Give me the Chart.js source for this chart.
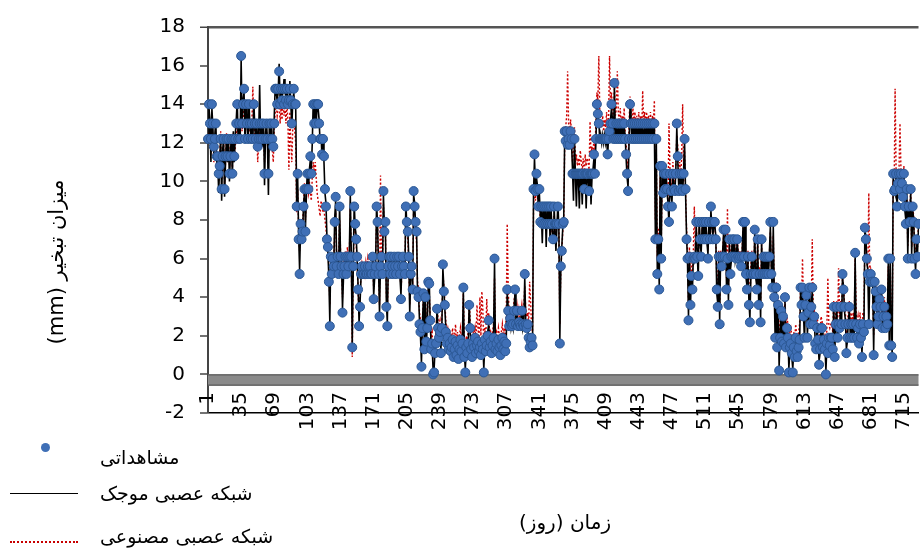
<!DOCTYPE html>
<html><head><meta charset="utf-8">
<script src="https://cdn.jsdelivr.net/npm/chart.js@4.4.1/dist/chart.umd.min.js"></script>
<style>
html,body{margin:0;padding:0;width:920px;height:549px;overflow:hidden;background:#fff;}
#wrap{position:relative;width:924px;height:549px;}
canvas{position:absolute;left:0;top:0;}
.t{position:absolute;font-family:"DejaVu Sans",sans-serif;color:#000;white-space:nowrap;line-height:1;}
</style></head><body>
<div id="wrap">
<canvas id="c" width="924" height="549"></canvas>
<div class="t" dir="rtl" style="left:56px;top:262px;font-size:21px;transform:translate(-50%,-50%) rotate(-90deg);">میزان تبخیر (mm)</div>
<div class="t" dir="rtl" style="left:565px;top:522px;font-size:20px;transform:translate(-50%,-50%);">زمان (روز)</div>
<div style="position:absolute;left:41px;top:443px;width:9px;height:9px;border-radius:50%;background:#3f6fb6;"></div>
<div class="t" dir="rtl" style="left:100px;top:448px;font-size:19px;">مشاهداتی</div>
<div style="position:absolute;left:10px;top:493px;width:68px;height:0;border-top:1.5px solid #000;"></div>
<div class="t" dir="rtl" style="left:100px;top:484px;font-size:19px;">شبکه عصبی موجک</div>
<div style="position:absolute;left:10px;top:541px;width:68px;height:0;border-top:2px dotted #c80000;"></div>
<div class="t" dir="rtl" style="left:100px;top:527px;font-size:19px;">شبکه عصبی مصنوعی</div>
</div>
<script>
// categories: day numbers 1..730
const days = Array.from({length:730},(_,i)=>String(i+1));
const labelStep = 34;
const yTicks = {min:-2, max:18, step:2};

// observed evaporation (mm)
const observed = [
12.2,14.0,13.0,12.2,14.0,13.0,11.8,12.2,13.0,11.3,
11.3,10.4,10.8,12.2,9.6,11.3,12.2,9.6,11.3,12.2,
11.3,12.2,10.4,11.3,12.2,10.4,12.2,11.3,12.2,13.0,
14.0,12.2,13.0,12.2,16.5,13.0,14.0,14.8,12.2,14.0,
13.0,12.2,14.0,13.0,12.2,13.0,12.2,14.0,13.0,12.2,
13.0,11.8,12.2,13.0,12.2,13.0,12.2,13.0,10.4,12.2,
13.0,12.2,10.4,13.0,12.2,13.0,12.2,11.8,13.0,14.8,
14.8,14.0,14.8,15.7,14.0,14.8,14.2,14.8,14.0,14.8,
14.2,14.8,14.0,14.2,14.8,14.2,13.0,14.0,14.8,14.0,
14.0,8.7,10.4,7.0,5.2,7.8,7.0,7.4,8.7,9.6,
7.4,9.6,10.4,9.6,10.4,11.3,10.4,12.2,14.0,13.0,
14.0,13.0,14.0,14.0,13.0,12.2,12.2,11.4,12.2,11.3,
9.6,8.7,7.0,6.6,4.8,2.5,6.1,5.2,6.0,5.6,
7.9,9.2,5.6,6.1,5.2,8.7,6.1,5.6,3.2,5.2,
5.6,6.1,5.2,6.1,5.6,6.1,9.5,6.1,1.4,5.6,
8.7,7.8,7.0,6.1,4.4,2.5,3.5,5.2,5.6,5.2,
5.2,5.6,5.2,5.2,5.6,5.2,5.6,5.2,5.2,6.1,
3.9,5.2,5.6,8.7,7.9,5.2,3.0,5.6,6.1,5.2,
9.5,7.4,7.9,3.5,2.5,5.6,6.1,5.2,6.1,5.6,
5.2,6.1,5.6,5.2,6.1,5.6,6.1,5.2,3.9,5.6,
6.1,5.6,5.2,8.7,7.9,7.4,6.1,3.0,5.2,5.6,
4.4,9.5,8.7,7.9,7.4,4.3,4.0,2.6,2.2,0.4,
2.4,4.2,1.3,4.0,1.7,2.4,4.8,4.7,2.8,1.3,
1.6,0.0,0.1,1.1,1.6,3.4,2.4,1.9,2.2,1.1,
2.4,5.7,4.3,3.6,2.2,1.6,1.9,1.3,1.6,1.2,
1.4,1.8,0.9,1.3,1.7,1.0,1.5,0.8,1.3,1.8,
1.2,1.6,4.5,0.9,0.1,1.4,1.1,1.6,3.6,2.4,
1.3,0.9,1.6,1.4,1.9,1.1,1.5,1.7,1.2,1.4,
1.0,1.6,1.3,0.1,1.8,1.2,1.5,2.0,2.8,1.4,
1.7,1.1,1.5,1.9,6.0,1.3,1.6,1.2,1.8,1.4,
1.0,1.5,1.9,1.3,1.7,1.2,1.6,4.4,3.3,2.5,
2.9,2.6,2.5,2.6,3.3,4.4,2.6,3.3,2.5,2.7,
2.6,2.5,3.3,2.6,2.5,5.2,2.6,2.4,2.6,1.9,
1.4,1.7,1.9,1.5,9.6,11.4,9.5,10.4,9.6,8.7,
9.6,7.9,8.7,7.8,8.7,7.8,8.7,7.8,8.7,7.8,
8.7,7.8,8.7,7.8,7.0,8.7,7.8,7.8,7.8,8.7,
7.8,1.6,5.6,6.4,7.8,7.9,12.6,12.1,12.6,11.9,
12.2,11.9,12.6,12.2,10.4,10.4,12.2,10.4,10.4,10.4,
10.4,10.4,10.4,10.4,10.4,10.4,9.6,10.4,10.4,10.4,
10.4,9.5,10.4,10.4,10.4,10.4,11.4,10.4,12.2,14.0,
13.5,13.0,12.2,12.2,12.2,12.2,12.2,12.2,12.2,12.2,
11.4,12.2,12.6,13.0,14.0,13.0,12.2,15.1,12.2,13.0,
12.2,13.0,12.2,13.0,12.2,13.0,12.2,13.0,12.2,11.4,
10.4,9.5,12.2,14.0,13.0,12.2,13.0,12.2,13.0,12.2,
13.0,12.2,13.0,12.2,13.0,12.2,13.0,12.2,13.0,12.2,
13.0,12.2,13.0,12.2,13.0,12.2,13.0,12.2,13.0,7.0,
12.2,5.2,7.0,4.4,10.8,6.0,10.8,9.4,10.4,9.6,
10.4,9.6,8.7,7.9,10.4,9.5,8.7,10.4,9.6,9.5,
10.4,13.0,11.3,9.5,10.4,9.6,10.4,9.5,10.4,12.2,
9.6,7.0,6.0,2.8,6.1,3.6,5.1,4.4,6.0,6.1,
6.0,7.9,6.1,5.1,7.9,7.0,6.1,7.9,7.0,7.9,
7.0,7.9,7.0,6.0,7.9,7.0,8.7,7.9,7.0,7.9,
7.9,7.0,4.4,3.5,6.1,2.6,6.1,5.6,6.1,7.5,
6.1,7.5,4.4,6.0,3.6,7.0,5.2,6.1,7.0,6.1,
7.0,6.1,6.0,7.0,6.1,6.0,6.1,5.6,6.1,7.9,
6.1,7.9,5.2,4.4,6.1,3.6,2.7,5.2,6.1,5.2,
5.2,7.5,5.2,4.4,7.0,3.6,5.2,2.7,7.0,5.2,
6.1,5.2,6.1,5.2,6.1,5.2,6.1,7.9,5.2,4.5,
7.9,4.0,1.9,4.5,1.4,3.6,0.2,1.9,3.3,1.7,
3.0,1.6,4.0,1.4,2.4,1.9,0.1,1.4,1.6,1.1,
0.1,1.4,0.9,1.9,1.2,0.9,1.4,1.8,4.5,3.6,
4.5,3.0,1.9,3.6,4.1,1.9,3.2,4.5,2.6,3.5,
4.5,2.6,3.0,1.6,1.3,2.4,1.8,0.5,1.3,2.4,
2.4,1.4,1.8,1.3,0.0,1.6,1.1,1.9,1.5,1.9,
1.9,1.3,3.5,0.9,2.6,3.5,1.9,2.6,2.4,3.5,
2.6,5.2,4.4,3.5,2.6,1.1,1.9,2.6,3.5,1.9,
2.6,1.9,2.6,1.9,6.3,2.6,1.9,2.4,1.6,2.6,
1.9,0.9,2.6,2.2,7.6,7.0,6.0,5.2,2.6,4.8,
5.2,4.8,4.8,1.0,4.8,4.3,3.5,2.6,3.0,3.9,
3.5,4.4,2.4,3.0,3.5,2.4,3.0,2.6,6.0,1.5,
6.0,1.5,0.9,10.4,9.5,9.6,10.4,8.7,9.9,10.4,
9.6,10.4,9.9,9.2,10.4,8.7,7.8,9.6,6.0,8.7,
7.9,9.6,6.0,8.7,7.9,6.0,5.2,7.0,6.1,7.8
];

// wavelet neural network (black line)
const wavelet = [
12.0,13.8,13.2,11.0,13.8,12.8,11.4,12.4,13.2,11.0,
11.0,9.4,11.0,12.4,9.0,11.6,12.2,9.2,11.0,12.4,
11.0,12.4,10.0,11.4,12.4,10.2,12.6,11.0,12.4,13.2,
14.2,12.0,13.2,12.0,16.3,13.2,14.2,14.6,12.0,13.8,
13.2,12.0,14.2,12.8,12.4,13.2,12.0,14.2,12.8,12.0,
13.2,11.6,12.4,15.0,12.0,13.2,11.8,13.2,9.8,12.4,
13.2,12.0,9.3,13.2,12.4,13.2,12.0,11.6,13.4,15.0,
14.6,14.2,14.6,16.1,14.2,14.6,14.4,14.6,15.3,14.6,
14.4,14.6,14.2,14.0,15.2,14.0,12.8,14.2,14.6,13.8,
13.8,8.8,10.2,7.2,5.4,7.6,7.2,7.2,8.8,9.4,
7.6,9.4,10.6,9.4,10.6,11.1,10.6,12.0,14.2,12.8,
14.2,12.8,14.2,13.8,13.2,12.0,12.4,11.2,12.4,11.0,
9.4,8.9,7.2,6.4,5.0,2.7,6.3,5.0,6.2,5.4,
8.1,9.0,5.8,6.3,5.0,8.9,6.0,5.8,3.4,5.0,
5.8,6.2,5.0,6.3,5.4,6.2,9.3,6.3,1.6,5.4,
8.9,7.6,7.2,6.0,4.6,2.7,3.7,5.0,5.8,5.0,
5.4,5.8,5.0,5.4,5.8,5.0,5.8,5.4,5.0,6.2,
4.1,5.0,5.8,8.9,7.7,5.4,3.2,5.8,6.3,5.0,
9.3,7.6,7.7,3.7,2.7,5.8,6.2,5.0,6.3,5.4,
5.4,6.2,5.4,5.4,6.2,5.8,6.3,5.0,4.1,5.8,
6.2,5.4,5.4,8.9,7.7,7.6,6.0,3.2,5.0,5.8,
4.6,9.3,8.9,7.7,7.6,4.1,4.2,2.8,2.0,0.6,
2.6,4.0,1.5,4.2,1.5,2.6,4.6,4.9,2.6,1.5,
1.4,0.2,0.3,1.3,1.4,3.6,2.2,2.1,2.0,1.3,
2.6,5.5,4.5,3.4,2.4,1.4,2.1,1.1,1.8,1.0,
1.6,1.6,1.1,1.1,1.9,0.8,1.7,0.6,1.5,1.6,
1.0,1.8,4.3,1.1,0.3,1.2,1.3,1.4,3.8,2.2,
1.5,0.7,1.8,1.2,2.1,0.9,1.7,1.5,1.4,1.2,
1.2,1.4,1.5,0.3,1.6,1.4,1.3,2.2,2.6,1.6,
1.5,1.3,1.3,2.1,5.8,1.1,1.8,1.0,2.0,1.2,
1.2,1.3,2.1,1.1,1.9,1.0,1.8,4.2,3.5,2.3,
3.1,2.4,2.7,2.4,3.5,4.2,2.8,3.1,2.7,2.5,
2.8,2.3,3.5,2.4,2.7,5.0,2.8,2.2,2.8,1.7,
1.6,1.5,2.1,1.3,9.4,11.2,9.7,10.2,9.8,8.5,
9.4,8.1,8.5,6.8,8.9,7.6,8.9,6.6,8.5,7.6,
8.9,6.9,8.5,7.6,6.8,8.9,7.6,6.4,7.6,8.9,
7.6,1.8,5.4,6.6,7.6,8.1,12.4,12.3,12.4,12.1,
12.4,11.7,12.8,12.0,10.6,9.0,12.4,10.2,8.7,10.6,
10.2,8.6,10.6,10.2,8.8,10.6,9.4,10.6,8.6,10.2,
10.6,9.3,10.6,8.8,10.2,10.6,11.2,10.6,12.0,14.2,
13.3,13.2,12.0,12.4,12.0,12.4,12.0,12.4,12.0,12.4,
11.2,12.4,12.4,13.2,13.8,13.2,12.0,14.9,12.4,12.8,
12.4,12.8,12.4,12.8,12.0,13.2,12.0,12.8,12.4,11.2,
10.2,9.7,12.0,13.8,13.2,12.0,13.2,12.0,13.2,12.0,
12.8,12.4,12.8,12.0,13.2,12.4,12.8,12.0,12.8,12.4,
12.8,12.4,13.2,12.0,12.8,12.4,13.2,12.0,12.8,7.2,
12.0,5.4,6.8,4.6,10.6,6.2,10.6,9.6,10.2,9.4,
10.6,9.4,8.9,7.7,10.6,9.3,8.9,10.2,9.8,9.3,
10.6,12.8,11.1,9.7,10.6,9.4,10.6,9.3,10.6,12.0,
9.4,7.2,5.8,3.0,6.3,3.4,5.3,4.2,6.2,5.9,
6.2,7.7,6.3,4.9,8.1,6.8,6.3,7.7,7.2,7.7,
7.2,7.7,6.8,6.2,8.1,6.8,8.5,7.7,7.2,7.7,
7.7,7.2,4.2,3.7,5.9,2.8,6.3,5.4,6.3,7.3,
6.3,7.3,4.6,5.8,3.8,6.8,5.4,5.9,7.2,5.9,
7.2,5.9,6.2,6.8,6.3,5.8,6.3,5.4,6.3,7.7,
5.9,8.1,5.0,4.6,5.9,3.8,2.9,5.0,6.3,5.0,
5.4,7.3,5.0,4.6,6.8,3.8,5.0,2.9,6.8,5.4,
5.9,5.4,5.9,5.4,5.9,5.0,6.3,7.7,5.4,4.3,
7.7,4.2,1.7,4.7,1.6,3.4,0.4,2.1,3.1,1.9,
2.8,1.8,3.8,1.6,2.2,2.1,0.3,1.2,1.8,0.9,
0.3,1.2,1.1,1.7,1.4,0.7,1.6,1.6,4.3,3.8,
4.3,3.2,1.7,3.8,3.9,2.1,3.0,4.7,2.4,3.7,
4.3,2.8,2.8,1.8,1.1,2.6,1.6,0.7,1.1,2.6,
2.2,1.6,1.6,1.5,0.2,1.4,1.3,1.7,1.7,1.7,
2.1,1.1,3.7,1.1,2.4,3.7,1.7,2.8,2.2,3.7,
2.4,5.0,4.6,3.3,2.8,1.3,1.7,2.8,3.3,2.1,
2.4,2.1,2.4,2.1,6.1,2.4,2.1,2.2,1.8,2.4,
2.1,1.1,2.4,2.4,7.4,7.2,5.8,5.4,2.4,5.0,
5.0,5.0,4.6,1.2,4.6,4.5,3.3,2.8,2.8,4.1,
3.3,4.6,2.2,3.2,3.3,2.6,2.8,2.8,5.8,1.7,
5.8,1.7,1.1,10.2,9.7,9.4,10.6,8.5,10.1,10.2,
9.8,10.2,10.1,9.0,10.6,8.5,8.0,9.4,6.2,8.5,
8.1,9.4,6.2,8.5,8.1,6.2,5.4,6.8,6.3,7.6
];

// artificial neural network (red dotted line)
const ann = [
12.0,12.6,12.4,11.5,12.6,12.0,11.0,11.8,12.4,10.5,
10.8,10.0,11.2,12.6,10.2,10.8,12.0,9.8,11.0,12.5,
11.0,12.4,10.8,11.6,12.0,10.6,12.5,11.0,11.8,12.4,
13.0,12.0,12.8,12.2,14.2,12.6,13.4,13.8,12.5,13.6,
13.0,12.4,13.2,12.6,12.2,13.0,14.9,13.0,12.2,12.0,
12.6,11.0,12.0,12.8,11.8,12.6,12.0,12.5,11.0,12.2,
12.6,12.0,11.2,12.5,12.2,12.8,11.6,11.0,12.8,13.6,
14.0,13.4,13.8,14.2,13.0,13.8,13.2,14.4,13.4,14.0,
13.0,14.2,13.0,10.6,13.6,12.0,11.0,12.8,13.2,12.6,
12.0,8.4,9.6,7.6,6.4,8.0,7.6,7.8,8.6,9.9,
8.0,9.2,9.8,9.4,10.0,9.4,9.0,10.2,11.0,10.5,
11.0,10.2,9.4,9.0,8.6,8.2,9.0,8.8,8.4,8.6,
8.0,7.6,6.8,6.2,5.6,3.6,6.0,5.4,5.8,6.0,
7.4,8.4,6.0,6.2,5.6,8.0,6.4,5.8,4.0,5.6,
6.0,6.4,5.6,6.6,5.8,6.2,8.6,6.4,0.9,5.2,
8.0,7.6,6.8,5.8,4.2,3.2,4.0,5.4,5.8,5.6,
5.6,5.2,5.8,5.4,6.0,5.6,5.2,5.8,5.4,6.2,
4.4,5.6,5.8,8.2,7.6,5.6,3.6,10.3,6.2,5.4,
8.8,7.2,7.6,4.2,3.2,5.4,5.8,5.6,5.8,5.4,
5.4,5.8,5.2,5.6,5.8,5.2,5.8,5.4,4.4,5.2,
5.8,5.4,5.6,8.2,7.6,7.0,5.8,3.6,5.4,5.0,
4.8,8.8,8.2,7.4,6.8,4.8,4.4,3.2,2.8,1.4,
2.8,4.0,2.0,4.4,2.2,2.8,4.6,4.2,3.0,2.0,
2.2,1.0,0.8,1.6,2.2,3.6,2.8,2.6,2.8,1.8,
2.8,5.2,4.6,3.8,2.8,2.2,2.4,2.0,2.2,1.8,
2.0,2.4,1.6,2.0,2.6,1.6,2.2,1.4,2.0,2.4,
1.8,2.2,4.2,1.6,1.0,2.0,1.8,2.2,3.8,2.8,
2.0,1.6,2.2,2.0,2.4,1.8,3.6,2.4,1.8,4.0,
2.0,4.3,3.4,1.2,2.4,1.8,3.9,2.6,3.2,2.0,
2.2,1.8,2.2,2.6,5.0,2.0,2.2,1.8,2.4,2.0,
1.8,2.2,2.6,2.0,2.4,1.8,3.0,7.8,4.4,3.2,
3.4,3.0,3.2,3.0,3.8,4.2,3.2,3.6,3.0,3.4,
3.0,3.2,3.6,3.0,3.2,4.6,3.4,3.0,3.2,2.6,
4.8,3.8,2.4,2.2,8.6,10.2,9.0,9.8,9.2,8.4,
9.0,8.0,8.4,7.6,8.2,7.6,8.4,7.8,8.2,7.6,
8.4,7.6,8.0,7.4,7.2,8.2,7.6,7.4,7.8,8.2,
7.4,2.6,5.6,6.2,7.4,8.0,12.0,12.8,13.4,15.7,
13.0,12.4,13.2,12.6,11.0,11.6,12.8,11.0,11.4,10.8,
11.2,10.8,11.6,11.0,10.6,11.2,10.0,11.4,10.8,11.2,
11.0,10.6,13.1,11.4,11.8,11.2,12.4,11.6,13.0,14.6,
14.2,16.5,13.6,13.0,12.8,13.4,12.6,13.2,12.8,13.6,
12.4,13.0,16.5,14.0,14.6,13.8,13.0,15.0,13.4,13.8,
15.7,13.6,13.0,13.8,12.8,13.4,12.8,13.8,12.6,12.0,
11.2,10.2,13.0,14.4,13.6,12.8,13.8,13.0,13.6,12.8,
13.4,12.6,13.6,12.8,13.4,12.6,14.7,13.0,13.6,12.8,
13.6,12.8,13.4,12.8,13.6,12.6,13.4,13.0,14.2,8.0,
11.6,6.0,7.6,5.2,10.2,6.6,10.2,9.8,10.0,9.4,
10.0,9.8,9.0,13.0,10.6,10.0,9.4,11.0,10.2,10.0,
10.8,12.4,11.8,10.2,11.0,10.4,11.2,14.0,10.8,11.6,
9.4,7.6,6.4,3.6,6.6,4.4,5.8,5.0,6.4,8.7,
6.4,7.6,6.6,5.8,7.4,7.2,6.4,7.6,7.2,7.4,
7.2,7.6,7.0,6.4,7.6,7.2,8.2,7.6,7.2,7.6,
7.6,7.2,5.0,4.2,6.4,3.4,6.4,6.0,6.4,7.2,
6.4,7.2,5.0,8.6,4.4,7.0,5.6,6.4,7.0,6.4,
7.0,6.4,6.2,7.0,6.4,6.2,6.4,6.0,6.4,7.6,
6.4,7.4,5.6,5.0,6.4,4.4,3.6,5.6,6.4,5.6,
5.6,7.2,5.6,5.0,7.0,4.4,5.6,3.6,6.8,5.6,
6.2,5.6,6.2,5.6,6.2,5.6,6.2,7.4,5.6,5.0,
7.2,4.6,2.8,4.8,2.4,4.0,1.2,2.6,3.6,2.4,
3.4,2.4,4.2,2.2,3.0,2.6,1.0,2.2,2.4,2.0,
1.0,2.2,1.8,2.6,2.0,1.8,2.2,2.6,4.6,3.8,
6.0,3.6,2.6,4.0,4.4,2.8,3.6,4.6,3.2,3.8,
7.0,3.2,3.4,2.4,2.2,3.0,2.6,1.4,2.2,3.0,
2.8,2.2,2.6,2.2,1.0,2.4,5.0,2.6,2.4,2.6,
2.6,2.2,3.8,1.8,3.2,3.8,2.6,5.5,3.0,3.8,
3.2,5.0,4.6,3.8,3.2,2.0,2.6,3.2,3.8,2.6,
3.2,2.6,3.2,2.6,6.0,3.2,2.6,3.0,2.4,3.2,
2.6,1.8,3.2,3.0,7.2,6.8,6.0,5.4,9.4,5.0,
5.4,5.0,5.0,2.0,5.0,4.6,4.0,3.2,3.6,4.2,
4.0,4.6,3.0,3.6,4.0,3.0,3.6,3.2,5.6,2.4,
5.6,2.4,1.8,9.8,9.6,14.8,10.6,9.2,10.0,10.6,
13.0,10.6,10.2,9.6,10.8,9.0,8.2,9.8,6.6,8.8,
8.2,9.6,6.6,8.8,8.2,6.6,5.8,7.2,6.6,7.8
];

const zeroBand = {
  id:'zeroBand',
  beforeDatasetsDraw(chart){
    const {ctx, chartArea, scales} = chart;
    const y0 = scales.y.getPixelForValue(0), y1 = scales.y.getPixelForValue(-0.58);
    ctx.save();
    ctx.fillStyle = '#8a8a8a';
    ctx.fillRect(chartArea.left, y0, chartArea.right-chartArea.left, y1-y0);
    ctx.strokeStyle = '#5a5a5a'; ctx.lineWidth = 1.2;
    ctx.beginPath();
    ctx.moveTo(chartArea.left, y0+0.5); ctx.lineTo(chartArea.right, y0+0.5);
    ctx.moveTo(chartArea.left, y1-0.5); ctx.lineTo(chartArea.right, y1-0.5);
    ctx.stroke();
    ctx.restore();
  }
};

// x tick labels straddle the bottom axis line (as in the original), drawn from the x scale
const xLabels = {
  id:'xLabels',
  afterDraw(chart){
    const {ctx, scales} = chart;
    const xs = scales.x;
    const top = chart.chartArea.bottom - 21;
    ctx.save();
    ctx.fillStyle = '#000';
    ctx.font = '20px "DejaVu Sans"';
    ctx.textAlign = 'right';
    ctx.textBaseline = 'middle';
    for (let i = 0; i < days.length; i += labelStep) {
      const x = xs.getPixelForValue(i);
      ctx.save();
      ctx.translate(x, top);
      ctx.rotate(-Math.PI/2);
      ctx.fillText(days[i], 0, 0);
      ctx.restore();
    }
    ctx.restore();
  }
};

new Chart(document.getElementById('c'), {
  type:'line',
  data:{
    labels: days,
    datasets:[
      {label:'مشاهداتی', data:observed, showLine:false, pointRadius:4.5, pointStyle:'circle',
       pointBackgroundColor:'#3f6fb6', pointBorderColor:'#2c5894', pointBorderWidth:1,
       borderColor:'#3f6fb6', backgroundColor:'#3f6fb6'},
      {label:'شبکه عصبی موجک', data:wavelet, borderColor:'#000', borderWidth:1.6, pointRadius:0, tension:0},
      {label:'شبکه عصبی مصنوعی', data:ann, borderColor:'#cc0000', borderWidth:1.4, borderDash:[2,2], pointRadius:0, tension:0}
    ]
  },
  options:{
    responsive:false, animation:false, events:[],
    layout:{padding:{top:22, right:3, left:0, bottom:0}},
    plugins:{legend:{display:false}, tooltip:{enabled:false}},
    scales:{
      x:{
        type:'category',
        offset:false,
        grid:{display:false},
        border:{display:true, color:'#000', width:1.5},
        ticks:{display:false, autoSkip:false},
        afterFit:(s)=>{ s.height = 136; }
      },
      y:{
        min:yTicks.min, max:yTicks.max,
        border:{display:true, color:'#444', width:2},
        grid:{
          drawOnChartArea:true, drawTicks:true, tickLength:8, tickColor:'#444', tickWidth:1.5,
          color:(c)=> (c.tick && c.tick.value===yTicks.max) ? '#555' : 'rgba(0,0,0,0)',
          lineWidth:(c)=> (c.tick && c.tick.value===yTicks.max) ? 2.5 : 0
        },
        ticks:{stepSize:yTicks.step, padding:15, color:'#000', font:{family:'DejaVu Sans', size:20}},
        afterFit:(s)=>{ s.width = 208; }
      }
    }
  },
  plugins:[zeroBand, xLabels]
});
</script>
</body></html>
